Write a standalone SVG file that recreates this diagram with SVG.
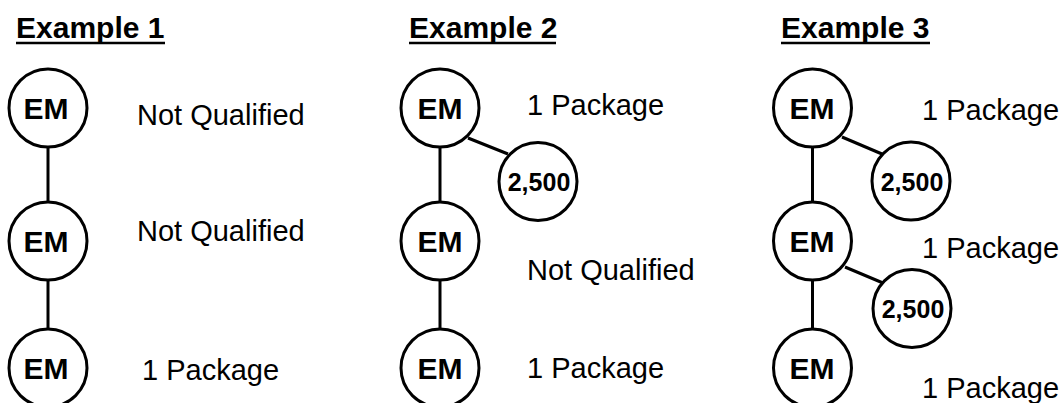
<svg xmlns="http://www.w3.org/2000/svg" width="1062" height="403" viewBox="0 0 1062 403">
<style>
.bg{fill:#ffffff}
.title{font-family:"Liberation Sans",Arial,sans-serif;font-weight:bold;font-size:30px;fill:#000}
.ul{stroke:#000;stroke-width:2.6}
.node circle{fill:#fff;stroke:#000;stroke-width:3}
.em{font-family:"Liberation Sans",Arial,sans-serif;font-weight:bold;font-size:30px;fill:#000;text-anchor:middle}
.amt{font-family:"Liberation Sans",Arial,sans-serif;font-weight:bold;font-size:25px;fill:#000;text-anchor:middle}
.lbl{font-family:"Liberation Sans",Arial,sans-serif;font-size:29px;fill:#000}
#connectors line{stroke:#000;stroke-width:3}
</style>
<rect class="bg" x="0" y="0" width="1062" height="403"/>

<g id="titles">
<text class="title" x="16" y="37.5">Example 1</text>
<line class="ul" x1="16" y1="43" x2="165" y2="43"/>
<text class="title" x="409" y="37.5">Example 2</text>
<line class="ul" x1="409" y1="43" x2="556" y2="43"/>
<text class="title" x="781" y="37.5">Example 3</text>
<line class="ul" x1="781" y1="43" x2="930" y2="43"/>
</g>

<g id="connectors">
<line x1="48" y1="147" x2="48" y2="202"/>
<line x1="48" y1="280" x2="48" y2="329"/>
<line x1="440" y1="147" x2="440" y2="202"/>
<line x1="440" y1="280" x2="440" y2="329"/>
<line x1="468" y1="138" x2="508" y2="154"/>
<line x1="812.5" y1="147" x2="812.5" y2="202"/>
<line x1="812.5" y1="280" x2="812.5" y2="329"/>
<line x1="842" y1="137" x2="882" y2="154"/>
<line x1="845" y1="267" x2="883" y2="283"/>
</g>

<g id="ex1-em1" class="node"><circle cx="48" cy="108" r="39"/><text class="em" x="46" y="118.5">EM</text></g>
<g id="ex1-em2" class="node"><circle cx="48" cy="241" r="39"/><text class="em" x="46" y="252">EM</text></g>
<g id="ex1-em3" class="node"><circle cx="48" cy="368" r="39"/><text class="em" x="46" y="378.5">EM</text></g>

<g id="ex2-em1" class="node"><circle cx="440" cy="108" r="39"/><text class="em" x="440" y="118.5">EM</text></g>
<g id="ex2-amt1" class="node"><circle cx="538" cy="181.5" r="39"/><text class="amt" x="539" y="190.5">2,500</text></g>
<g id="ex2-em2" class="node"><circle cx="440" cy="241" r="39"/><text class="em" x="440" y="252">EM</text></g>
<g id="ex2-em3" class="node"><circle cx="440" cy="368" r="39"/><text class="em" x="440" y="378.5">EM</text></g>

<g id="ex3-em1" class="node"><circle cx="812.5" cy="108" r="39"/><text class="em" x="812" y="118.5">EM</text></g>
<g id="ex3-amt1" class="node"><circle cx="911" cy="181" r="39"/><text class="amt" x="912" y="190.5">2,500</text></g>
<g id="ex3-em2" class="node"><circle cx="812.5" cy="241" r="39"/><text class="em" x="812" y="252">EM</text></g>
<g id="ex3-amt2" class="node"><circle cx="912" cy="308.5" r="39"/><text class="amt" x="913" y="317.5">2,500</text></g>
<g id="ex3-em3" class="node"><circle cx="812.5" cy="368" r="39"/><text class="em" x="812" y="378.5">EM</text></g>

<g id="labels">
<text class="lbl" x="137" y="125">Not Qualified</text>
<text class="lbl" x="137" y="241">Not Qualified</text>
<text class="lbl" x="142" y="380">1 Package</text>
<text class="lbl" x="527" y="115">1 Package</text>
<text class="lbl" x="527" y="280">Not Qualified</text>
<text class="lbl" x="527" y="378">1 Package</text>
<text class="lbl" x="922" y="120">1 Package</text>
<text class="lbl" x="922" y="258">1 Package</text>
<text class="lbl" x="922" y="398">1 Package</text>
</g>
</svg>
